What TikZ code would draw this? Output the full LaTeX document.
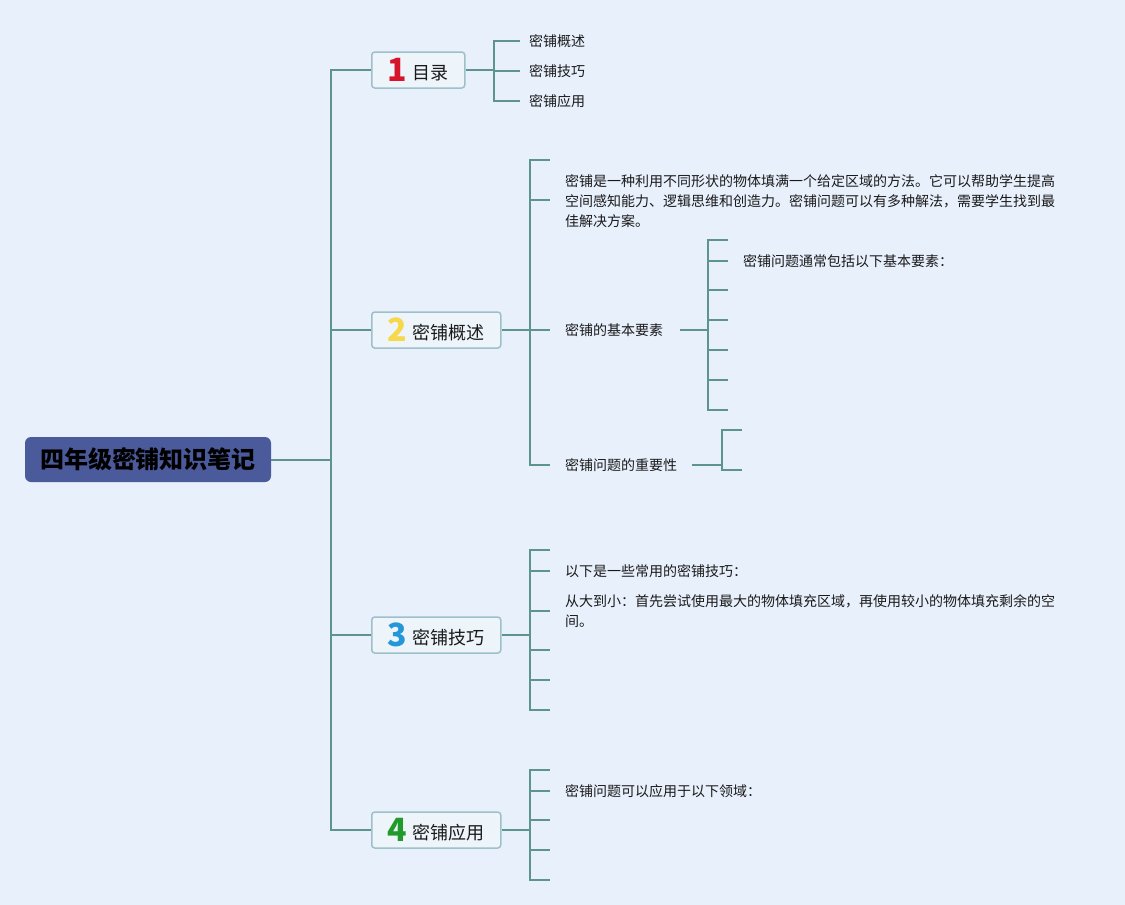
\documentclass[tikz,border=0pt]{standalone}
\usepackage{fontspec}
\setmainfont{Noto Sans CJK SC}
\definecolor{bg}{HTML}{E8F0FC}
\definecolor{ln}{HTML}{5E948F}
\definecolor{boxfill}{HTML}{EDF4FA}
\definecolor{boxdraw}{HTML}{9DC0C9}
\definecolor{rootfill}{HTML}{4A5A9B}
\definecolor{txt}{HTML}{1A1A1A}
\definecolor{nA}{HTML}{D7152A}
\definecolor{nB}{HTML}{F6D84A}
\definecolor{nC}{HTML}{2397D8}
\definecolor{nD}{HTML}{1F9A2B}
\newcommand\bnum[3]{{\bfseries\fontsize{32}{32}\selectfont\color{#1}#2}\hspace{6pt}\raisebox{2.5pt}{#3}}
\tikzset{
  conn/.style={draw=ln, line width=2pt},
  mainbox/.style={draw=boxdraw, fill=boxfill, line width=1.5pt, rounded corners=3pt,
    minimum height=36pt, inner sep=0pt, font=\fontsize{18}{18}\selectfont, text=txt, anchor=west},
  rootbox/.style={fill=rootfill, rounded corners=6pt, minimum width=246pt, minimum height=45pt,
    inner sep=0pt, font=\fontsize{24}{24}\selectfont\bfseries, text=black},
  leaf/.style={inner sep=0pt, anchor=west, font=\fontsize{14}{20}\selectfont, align=left, text=txt}
}
\begin{document}
\begin{tikzpicture}[x=1pt,y=-1pt]
\useasboundingbox (0,0) rectangle (1125,905);
\fill[bg] (0,0) rectangle (1125,905);

% root and main boxes
\node[rootbox] (root) at (148,459.5) {四年级密铺知识笔记};
\node[mainbox, minimum width=93pt] (b1) at (371,70) {\bnum{nA}{1}{目录}};
\node[mainbox, minimum width=129pt] (b2) at (371,330) {\bnum{nB}{2}{密铺概述}};
\node[mainbox, minimum width=129pt] (b3) at (371,635) {\bnum{nC}{3}{密铺技巧}};
\node[mainbox, minimum width=129pt] (b4) at (371,830) {\bnum{nD}{4}{密铺应用}};

% trunk
\coordinate (t) at (331,459.5);
\draw[conn] (root.east) -- (t);
\draw[conn] (t) |- (b1.west);
\draw[conn] (t) |- (b2.west);
\draw[conn] (t) |- (b3.west);
\draw[conn] (t) |- (b4.west);

% box 1 children
\node[leaf] (c11) at (529,41) {密铺概述};
\node[leaf] (c12) at (529,71) {密铺技巧};
\node[leaf] (c13) at (529,101) {密铺应用};
\coordinate (j1) at (494,70);
\draw[conn] (b1.east) -- (j1);
\draw[conn] (j1) |- ([xshift=-9pt]c11.west);
\draw[conn] (j1) |- ([xshift=-9pt]c12.west);
\draw[conn] (j1) |- ([xshift=-9pt]c13.west);

% box 2 children
\node[leaf] (c22) at (565,201) {密铺是一种利用不同形状的物体填满一个给定区域的方法。它可以帮助学生提高\\空间感知能力、逻辑思维和创造力。密铺问题可以有多种解法，需要学生找到最\\佳解决方案。};
\node[leaf] (c23) at (565,330) {密铺的基本要素};
\node[leaf] (c24) at (565,465) {密铺问题的重要性};
\coordinate (j2) at (530,330);
\coordinate (e21) at (550,160);
\coordinate (e22) at (550,200);
\draw[conn] (b2.east) -- (j2);
\draw[conn] (j2) |- (e21);
\draw[conn] (j2) |- (e22);
\draw[conn] (j2) -- ([xshift=-15pt]c23.west);
\draw[conn] (j2) |- ([xshift=-15pt]c24.west);

% 基本要素 children
\node[leaf] (c31) at (743,261) {密铺问题通常包括以下基本要素：};
\coordinate (j3) at (708,330);
\draw[conn] ([xshift=17pt]c23.east) -- (j3);
\foreach \yy [count=\i] in {240,290,320,350,380,410} {
  \coordinate (e3\i) at (728,\yy);
  \draw[conn] (j3) |- (e3\i);
}
\draw[conn] (j3) |- ([xshift=-15pt]c31.west);

% 重要性 children
\coordinate (j4) at (722,465);
\coordinate (e41) at (742,430);
\coordinate (e42) at (742,470);
\draw[conn] ([xshift=15pt]c24.east) -- (j4);
\draw[conn] (j4) |- (e41);
\draw[conn] (j4) |- (e42);

% box 3 children
\node[leaf] (c51) at (565,571) {以下是一些常用的密铺技巧：};
\node[leaf] (c52) at (565,611) {从大到小：首先尝试使用最大的物体填充区域，再使用较小的物体填充剩余的空\\间。};
\coordinate (j5) at (530,635);
\draw[conn] (b3.east) -- (j5);
\draw[conn] (j5) |- ([xshift=-15pt]c51.west);
\draw[conn] (j5) |- ([xshift=-15pt]c52.west);
\foreach \yy [count=\i] in {550,650,680,710} {
  \coordinate (e5\i) at (550,\yy);
  \draw[conn] (j5) |- (e5\i);
}

% box 4 children
\node[leaf] (c61) at (565,791) {密铺问题可以应用于以下领域：};
\coordinate (j6) at (530,830);
\draw[conn] (b4.east) -- (j6);
\draw[conn] (j6) |- ([xshift=-15pt]c61.west);
\foreach \yy [count=\i] in {770,820,850,880} {
  \coordinate (e6\i) at (550,\yy);
  \draw[conn] (j6) |- (e6\i);
}
\end{tikzpicture}
\end{document}
